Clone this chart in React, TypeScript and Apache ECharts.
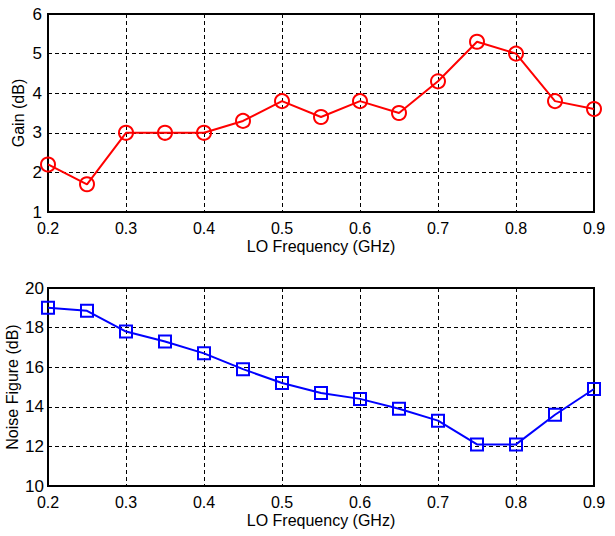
import React, { useEffect, useRef } from "react";
import * as echarts from "echarts";

const freqs = [0.2, 0.25, 0.3, 0.35, 0.4, 0.45, 0.5, 0.55, 0.6, 0.65, 0.7, 0.75, 0.8, 0.85, 0.9];
const gain = [2.2, 1.7, 3.0, 3.0, 3.0, 3.3, 3.8, 3.4, 3.8, 3.5, 4.3, 5.3, 5.0, 3.8, 3.6];
const noiseFigure = [19.0, 18.85, 17.8, 17.3, 16.7, 15.9, 15.2, 14.7, 14.4, 13.9, 13.3, 12.1, 12.1, 13.6, 14.9];

const FONT = "Liberation Sans, Arial, sans-serif";

export default function App() {
  const ref = useRef<HTMLDivElement>(null);
  useEffect(() => {
    const chart = echarts.init(ref.current!, null, { renderer: "svg" });
    const splitLine = { show: true, lineStyle: { color: "#000", type: [4, 3] as any, width: 1 } };
    const xAxisBase = (gridIndex: number) => ({
      type: "value" as const,
      gridIndex,
      min: 0.2,
      max: 0.9,
      interval: 0.1,
      name: "LO Frequency (GHz)",
      nameLocation: "middle" as const,
      nameGap: 26,
      nameTextStyle: { fontSize: 16, color: "#000", fontFamily: FONT },
      axisLine: { show: true, lineStyle: { color: "#000", width: 2 } },
      axisTick: { show: false },
      axisLabel: {
        fontSize: 16,
        color: "#000",
        fontFamily: FONT,
        margin: 8,
        formatter: (v: number) => v.toFixed(1),
      },
      splitLine,
    });
    chart.setOption({
      animation: false,
      backgroundColor: "#fff",
      grid: [
        { left: 48, top: 14, right: 21, height: 198, show: true, borderColor: "#000", borderWidth: 2, containLabel: false, outerBoundsMode: "none" },
        { left: 48, top: 288, right: 21, height: 198, show: true, borderColor: "#000", borderWidth: 2, containLabel: false, outerBoundsMode: "none" },
      ],
      xAxis: [xAxisBase(0), xAxisBase(1)],
      yAxis: [
        {
          type: "value",
          gridIndex: 0,
          min: 1,
          max: 6,
          interval: 1,
          name: "Gain (dB)",
          nameLocation: "middle",
          nameGap: 22,
          nameMoveOverlap: false,
          nameTextStyle: { fontSize: 16, color: "#000", fontFamily: FONT },
          axisLine: { show: true, lineStyle: { color: "#000", width: 2 } },
          axisTick: { show: false },
          axisLabel: { fontSize: 17, color: "#000", fontFamily: FONT, margin: 6 },
          splitLine,
        },
        {
          type: "value",
          gridIndex: 1,
          min: 10,
          max: 20,
          interval: 2,
          name: "Noise Figure (dB)",
          nameLocation: "middle",
          nameGap: 28,
          nameMoveOverlap: false,
          nameTextStyle: { fontSize: 16, color: "#000", fontFamily: FONT },
          axisLine: { show: true, lineStyle: { color: "#000", width: 2 } },
          axisTick: { show: false },
          axisLabel: { fontSize: 17, color: "#000", fontFamily: FONT, margin: 4 },
          splitLine,
        },
      ],
      series: [
        {
          type: "line",
          xAxisIndex: 0,
          yAxisIndex: 0,
          data: freqs.map((f, i) => [f, gain[i]]),
          symbol: "circle",
          symbolSize: 14,
          lineStyle: { color: "#ff0000", width: 2 },
          itemStyle: { color: "transparent", borderColor: "#ff0000", borderWidth: 2 },
          z: 5,
        },
        {
          type: "line",
          xAxisIndex: 1,
          yAxisIndex: 1,
          data: freqs.map((f, i) => [f, noiseFigure[i]]),
          symbol: "rect",
          symbolSize: 12,
          lineStyle: { color: "#0000ff", width: 2 },
          itemStyle: { color: "transparent", borderColor: "#0000ff", borderWidth: 2 },
          z: 5,
        },
      ],
    });
    return () => chart.dispose();
  }, []);
  return (
    <div
      ref={ref}
      style={{ position: "fixed", left: 0, top: 0, width: 615, height: 536, background: "#fff" }}
    />
  );
}
